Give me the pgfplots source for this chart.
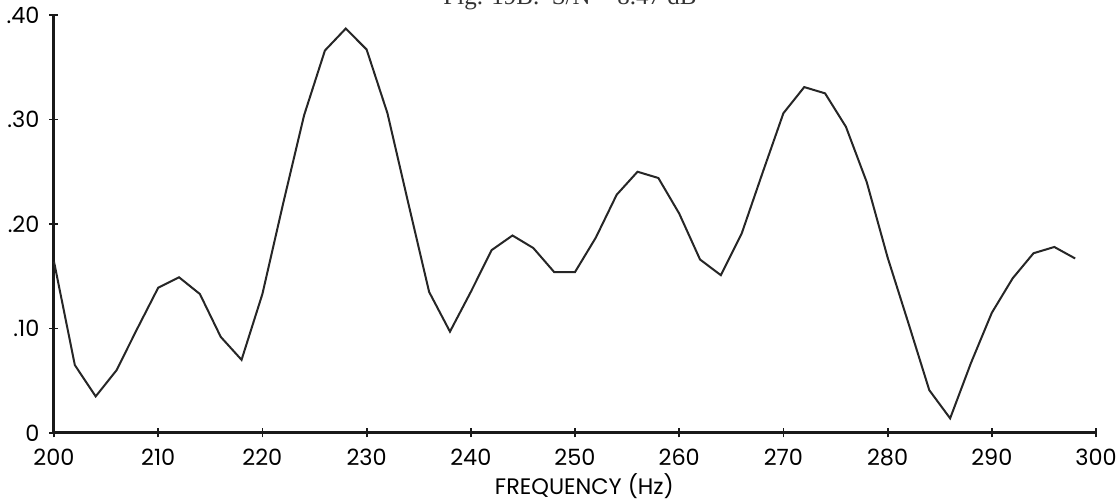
\documentclass[border=0pt]{standalone}
\usepackage{pgfplots}
\pgfplotsset{compat=1.18}
\usepackage{fontspec}
\setmainfont{Poppins}
\newfontfamily\captionfont{Liberation Serif}

\pgfplotstableread{
f     a
200   0.164
202   0.065
204   0.035
206   0.060
208   0.100
210   0.139
212   0.149
214   0.133
216   0.092
218   0.070
220   0.133
222   0.220
224   0.304
226   0.366
228   0.387
230   0.367
232   0.306
234   0.220
236   0.135
238   0.097
240   0.135
242   0.175
244   0.189
246   0.177
248   0.154
250   0.154
252   0.187
254   0.228
256   0.250
258   0.244
260   0.210
262   0.166
264   0.151
266   0.191
268   0.249
270   0.306
272   0.331
274   0.325
276   0.293
278   0.240
280   0.168
282   0.105
284   0.041
286   0.014
288   0.067
290   0.115
292   0.148
294   0.172
296   0.178
298   0.167
}\spectrum

\begin{document}
\begin{tikzpicture}
\begin{axis}[
  at={(0,0)}, anchor=south west,
  x=5.21pt, y=522.5pt,
  xmin=200, xmax=300, ymin=0, ymax=0.4,
  axis lines=left,
  axis line style={-, line width=1.5pt, color=black!90},
  xtick={200,210,...,300},
  xticklabels={200,210,220,230,240,250,260,270,280,290,300},
  ytick={0,0.1,0.2,0.3,0.4},
  yticklabels={0,.10,.20,.30,.40},
  tick align=center, major tick length=4.5pt,
  tick style={line width=0.9pt, black!90},
  /pgf/number format/assume math mode=true,
  ticklabel style={font=\fontsize{11.2}{13}\selectfont, text=black},
  xticklabel style={yshift=-2pt},
  yticklabel style={xshift=-1.5pt},
  xlabel={FREQUENCY (Hz)},
  xlabel style={font=\fontsize{11.2}{13}\selectfont, at={(axis description cs:0.509,0)}, anchor=north, yshift=-17pt},
  clip=false,
]
\addplot[line width=1pt, color=black!85] table[x=f, y=a] {\spectrum};
\end{axis}
\node[font=\captionfont\fontsize{12.5}{14}\selectfont, anchor=base, text=black!80] at (258pt,214pt) {Fig. 19B.\ \ S/N = 8.47 dB};
\pgfresetboundingbox
\path[use as bounding box] (-27pt,-34pt) rectangle (532.5pt,216.5pt);
\end{tikzpicture}
\end{document}
